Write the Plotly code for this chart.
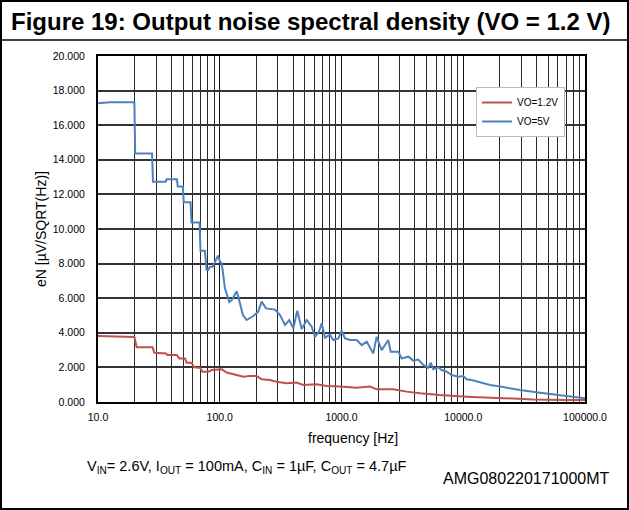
import plotly.graph_objects as go

# ---- data ----
freq_5v = [10, 12.5, 19.9, 20.2, 27.8, 28.3, 36.0, 36.6, 44.5, 45.2, 49.8, 50.6, 57.6, 58.6,
           68.2, 69.5, 75.5, 78.0, 80.5, 83.0, 87.5, 96.7, 100.5, 103.8, 110.4, 119.7, 126, 131,
           137.8, 143, 155, 166, 177, 188.7, 207, 221, 240, 258.6, 284, 312.5, 343.6, 372.6,
           401.8, 433.5, 471, 517.6, 569, 605, 653, 687, 732, 804, 856, 941, 1004, 1068, 1174,
           1333, 1466, 1611, 1770, 1824, 1945, 2138, 2422, 2535, 2928, 3120, 3538, 3888, 4275,
           4698, 5164, 5403, 5675, 6237, 6653, 7311, 8035, 9105, 10010, 10670, 11730, 13730,
           16590, 20040, 29240, 42700, 62330, 91000, 100000]
en_5v = [17.27, 17.32, 17.32, 14.37, 14.37, 12.73, 12.73, 12.87, 12.87, 12.45, 12.45, 11.54, 11.54, 10.37,
         10.37, 8.75, 8.75, 7.63, 7.63, 7.82, 7.82, 8.46, 8.10, 8.02, 6.57, 5.78, 5.90, 6.10,
         6.40, 6.00, 5.03, 4.74, 4.85, 4.97, 5.22, 5.80, 5.41, 5.36, 5.34, 5.03, 4.45, 4.74,
         4.26, 5.28, 4.22, 4.74, 4.35, 3.77, 4.06, 4.55, 3.72, 3.90, 3.58, 3.68, 4.12, 3.68, 3.58,
         3.58, 3.29, 3.49, 3.00, 2.81, 3.77, 3.00, 3.58, 2.91, 2.91, 2.52, 2.62, 2.39, 2.45,
         2.14, 1.98, 2.27, 1.89, 2.00, 1.85, 1.75, 1.56, 1.46, 1.50, 1.31, 1.27, 1.12,
         0.98, 0.89, 0.69, 0.54, 0.39, 0.27, 0.22]

freq_1v2 = [10, 12.2, 13.3, 19.9, 20.8, 28.1, 29.0, 36.2, 37.1, 44.3, 46.5, 51.8, 53.5, 58.8,
            61.4, 68.8, 72.2, 80.5, 86, 104, 114, 138, 156, 177.5, 201, 221, 258.6, 293, 354,
            427, 485, 625, 755, 970, 1333, 1714, 1945, 2658, 3030, 3424, 4440, 6410, 10670,
            20040, 37500, 70000, 100000]
en_1v2 = [3.82, 3.80, 3.76, 3.76, 3.16, 3.16, 2.85, 2.81, 2.72, 2.72, 2.52, 2.52, 2.27, 2.27,
          2.00, 1.98, 1.75, 1.75, 1.85, 1.89, 1.70, 1.56, 1.46, 1.50, 1.50, 1.31, 1.27, 1.17, 1.08,
          1.12, 0.98, 1.02, 0.92, 0.89, 0.83, 0.89, 0.73, 0.73, 0.65, 0.60, 0.50, 0.40, 0.31,
          0.21, 0.15, 0.12, 0.12]

series_names = ["VO=1.2V", "VO=5V"]
x_tick_vals = [10, 100, 1000, 10000, 100000]
x_tick_text = ["10.0", "100.0", "1000.0", "10000.0", "100000.0"]
y_tick_vals = [0, 2, 4, 6, 8, 10, 12, 14, 16, 18, 20]

# ---- layout geometry (pixels) ----
W, H = 629, 510
L, R, T, B = 98, 44, 56, 108
pw, ph = W - L - R, H - T - B

def px(x):
    return (x - L) / pw

def py(y):
    return (H - B - y) / ph

FONT = "Arial, Liberation Sans, Helvetica, sans-serif"

fig = go.Figure()
fig.add_trace(go.Scatter(x=freq_1v2, y=en_1v2, mode="lines", name=series_names[0],
                         line=dict(color="#C0504D", width=2)))
fig.add_trace(go.Scatter(x=freq_5v, y=en_5v, mode="lines", name=series_names[1],
                         line=dict(color="#4F81BD", width=2)))

fig.update_layout(
    width=W, height=H,
    margin=dict(l=L, r=R, t=T, b=B),
    paper_bgcolor="white", plot_bgcolor="white",
    font=dict(family=FONT, color="black"),
    showlegend=True,
    legend=dict(x=px(476), y=py(87), xanchor="left", yanchor="top",
                bgcolor="white", bordercolor="#BBBBBB", borderwidth=1,
                font=dict(size=10, family=FONT), tracegroupgap=0,
                itemwidth=30),
    xaxis=dict(type="log", range=[1, 5], tickvals=x_tick_vals, ticktext=x_tick_text,
               showgrid=True, gridcolor="#111111", gridwidth=1,
               minor=dict(dtick="D1", showgrid=True, gridcolor="#2a2a2a", gridwidth=1.2, ticks=""),
               showline=True, linecolor="black", linewidth=2, mirror=True,
               ticks="", tickfont=dict(size=10.5, family=FONT), ticklabelstandoff=4,
               zeroline=False),
    yaxis=dict(range=[0, 20], tickvals=y_tick_vals, tickformat=".3f",
               showgrid=True, gridcolor="#333333", gridwidth=1.6,
               showline=True, linecolor="black", linewidth=2, mirror=True,
               ticks="", tickfont=dict(size=10.5, family=FONT), ticklabelstandoff=9,
               zeroline=False),
)

annotations = [
    dict(text="<b>Figure 19: Output noise spectral density (VO = 1.2 V)</b>",
         x=px(310), y=py(21), xanchor="center", yanchor="middle",
         font=dict(size=24, family=FONT)),
    dict(text="eN [µV/SQRT(Hz)]", x=px(41), y=py(229), textangle=-90,
         xanchor="center", yanchor="middle", font=dict(size=14, family=FONT)),
    dict(text="frequency [Hz]", x=px(353), y=py(438), xanchor="center", yanchor="middle",
         font=dict(size=14, family=FONT)),
    dict(text="V<sub>IN</sub>= 2.6V, I<sub>OUT</sub> = 100mA, C<sub>IN</sub> = 1µF, C<sub>OUT</sub> = 4.7µF",
         x=px(85), y=py(467), xanchor="left", yanchor="middle", font=dict(size=14.5, family=FONT)),
    dict(text="AMG080220171000MT", x=px(612), y=py(478), xanchor="right", yanchor="middle",
         font=dict(size=16, family=FONT)),
]
for a in annotations:
    a.update(xref="paper", yref="paper", showarrow=False)
fig.update_layout(annotations=annotations)

shapes = [
    dict(type="rect", x0=px(1), x1=px(628), y0=py(509), y1=py(1),
         line=dict(color="black", width=2)),
    dict(type="line", x0=px(1), x1=px(628), y0=py(40), y1=py(40),
         line=dict(color="black", width=1.5)),
]
for s in shapes:
    s.update(xref="paper", yref="paper", layer="above")
fig.update_layout(shapes=shapes)

fig.write_html("out.html", config={"displayModeBar": False},
               post_script="document.body.style.margin='0px';")
